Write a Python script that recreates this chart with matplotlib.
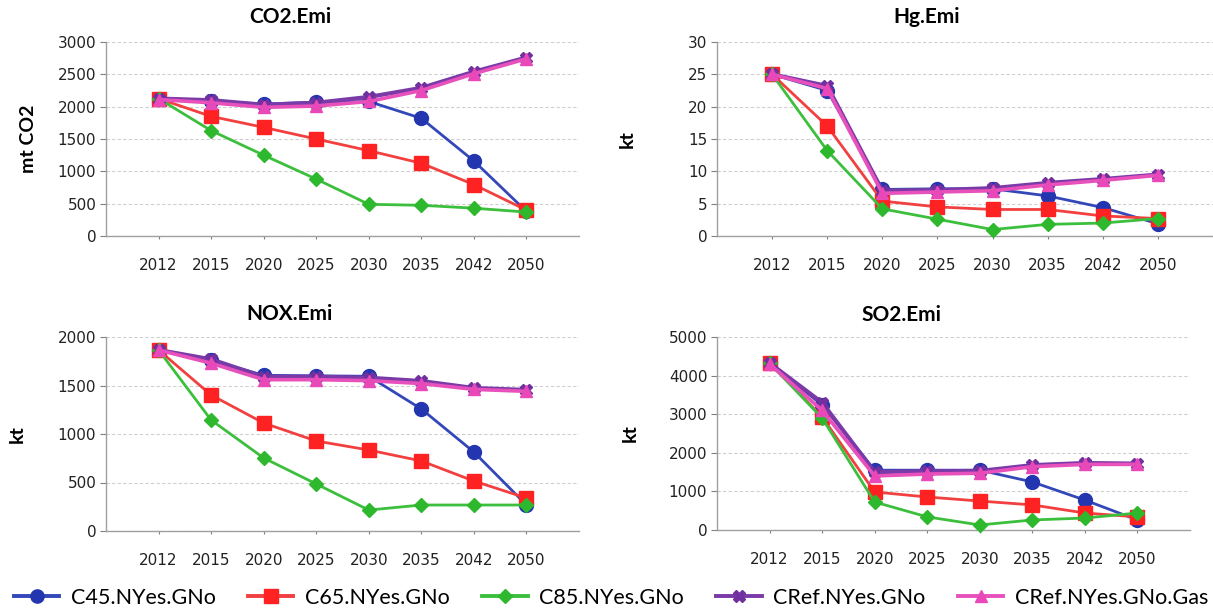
import matplotlib
matplotlib.use("Agg")
import matplotlib.pyplot as plt
from matplotlib.lines import Line2D

years = ["2012", "2015", "2020", "2025", "2030", "2035", "2042", "2050"]
series_names = ["C45.NYes.GNo", "C65.NYes.GNo", "C85.NYes.GNo",
                "CRef.NYes.GNo", "CRef.NYes.GNo.Gas"]

co2_c45 = [2125, 2085, 2040, 2070, 2080, 1820, 1160, 380]
co2_c65 = [2125, 1850, 1680, 1500, 1320, 1125, 795, 400]
co2_c85 = [2125, 1630, 1250, 880, 490, 475, 430, 370]
co2_cref = [2125, 2100, 2030, 2060, 2150, 2290, 2540, 2760]
co2_gas = [2110, 2060, 1990, 2010, 2080, 2250, 2510, 2740]

hg_c45 = [25.0, 22.5, 7.2, 7.3, 7.3, 6.2, 4.4, 1.9]
hg_c65 = [25.0, 17.0, 5.4, 4.5, 4.1, 4.1, 3.1, 2.7]
hg_c85 = [25.0, 13.2, 4.2, 2.6, 1.0, 1.8, 2.0, 2.7]
hg_cref = [25.0, 23.2, 7.0, 7.1, 7.4, 8.2, 8.8, 9.5]
hg_gas = [25.0, 22.8, 6.6, 6.8, 7.0, 7.9, 8.6, 9.4]

nox_c45 = [1866, 1760, 1605, 1600, 1595, 1258, 814, 268]
nox_c65 = [1866, 1402, 1113, 928, 835, 722, 515, 340]
nox_c85 = [1866, 1144, 753, 485, 216, 268, 268, 268]
nox_cref = [1866, 1770, 1590, 1590, 1580, 1546, 1474, 1454]
nox_gas = [1866, 1730, 1560, 1560, 1550, 1520, 1460, 1440]

so2_c45 = [4325, 3240, 1550, 1550, 1550, 1245, 775, 260]
so2_c65 = [4325, 2930, 985, 855, 750, 650, 440, 340]
so2_c85 = [4325, 2900, 725, 340, 130, 260, 310, 440]
so2_cref = [4325, 3300, 1500, 1520, 1530, 1680, 1735, 1720]
so2_gas = [4300, 3100, 1400, 1450, 1470, 1640, 1700, 1700]

panels = [
    ("CO2.Emi", "mt CO2", [co2_c45, co2_c65, co2_c85, co2_cref, co2_gas], 3000, 500),
    ("Hg.Emi", "kt", [hg_c45, hg_c65, hg_c85, hg_cref, hg_gas], 30, 5),
    ("NOX.Emi", "kt", [nox_c45, nox_c65, nox_c85, nox_cref, nox_gas], 2000, 500),
    ("SO2.Emi", "kt", [so2_c45, so2_c65, so2_c85, so2_cref, so2_gas], 5000, 1000),
]

colors = ["#2336B0", "#FF2222", "#2DB82D", "#7030A0", "#E848B8"]
line_colors = ["#3347B8", "#F24040", "#3CBF3C", "#7A3AA8", "#E850BC"]
markers = ["o", "s", "D", "X", "^"]
msizes = [10, 10, 7, 9, 9]
lws = [2.0, 2.0, 2.0, 3.0, 2.6]

W, H = 1213, 616
# (left, right, top, bottom) in pixels
boxes = [(106, 579, 42, 236), (717, 1213, 42, 236),
         (106, 579, 337, 531), (717, 1190, 337, 530)]
ylabel_x = [28, 627, 17, 630]
title_pos = [(290, 17), (927, 17), (289, 314), (901, 315)]

fig = plt.figure(figsize=(W / 100, H / 100), dpi=100)
tick_font = "DejaVu Sans"
title_font = "Lato"

x = list(range(len(years)))
for i, ((title, ylab, data, ymax, ystep), (l, r, t, b)) in enumerate(zip(panels, boxes)):
    ax = fig.add_axes([l / W, 1 - b / H, (r - l) / W, (b - t) / H])
    for k, vals in enumerate(data):
        ax.plot(x, vals, color=line_colors[k], lw=lws[k], marker=markers[k],
                markersize=msizes[k], markerfacecolor=colors[k],
                markeredgecolor=colors[k], zorder=3 + k, clip_on=False)
    ax.set_xlim(-1, 8)
    ax.set_ylim(0, ymax)
    ax.set_yticks(list(range(0, ymax + 1, ystep)))
    ax.set_xticks(x)
    ax.set_xticklabels(years)
    for s in ["top", "right"]:
        ax.spines[s].set_visible(False)
    for s in ["left", "bottom"]:
        ax.spines[s].set_color("#A0A0A0")
        ax.spines[s].set_linewidth(1.0)
    ax.yaxis.grid(True, linestyle=(0, (3, 2)), color="#CFCFCF", lw=0.8)
    ax.set_axisbelow(True)
    ax.tick_params(axis="x", length=2, color="#808080", pad=14, labelsize=11)
    ax.tick_params(axis="y", length=4, color="#808080", pad=3, labelsize=11)
    for lab in ax.get_xticklabels() + ax.get_yticklabels():
        lab.set_fontfamily(tick_font)
        lab.set_color("#222222")
    tx, ty = title_pos[i]
    fig.text(tx / W, 1 - ty / H, title, fontsize=15, fontweight="bold",
             family=title_font, ha="center", va="center")
    fig.text(ylabel_x[i] / W, 1 - ((t + b) / 2) / H, ylab, rotation=90,
             fontsize=14, fontweight="bold", family=title_font,
             ha="center", va="center")

handles = [Line2D([0], [0], color=line_colors[k], lw=2.8, marker=markers[k],
                  markersize=msizes[k] * 0.95, markerfacecolor=colors[k],
                  markeredgecolor=colors[k]) for k in range(5)]
fig.legend(handles, series_names, loc="center left", ncol=5,
           bbox_to_anchor=(14 / W, 1 - 598 / H), frameon=False,
           prop={"family": title_font, "size": 15.5}, handlelength=2.1,
           columnspacing=1.5, handletextpad=0.55, borderpad=0,
           borderaxespad=0)

fig.savefig("out.png", dpi=100)
